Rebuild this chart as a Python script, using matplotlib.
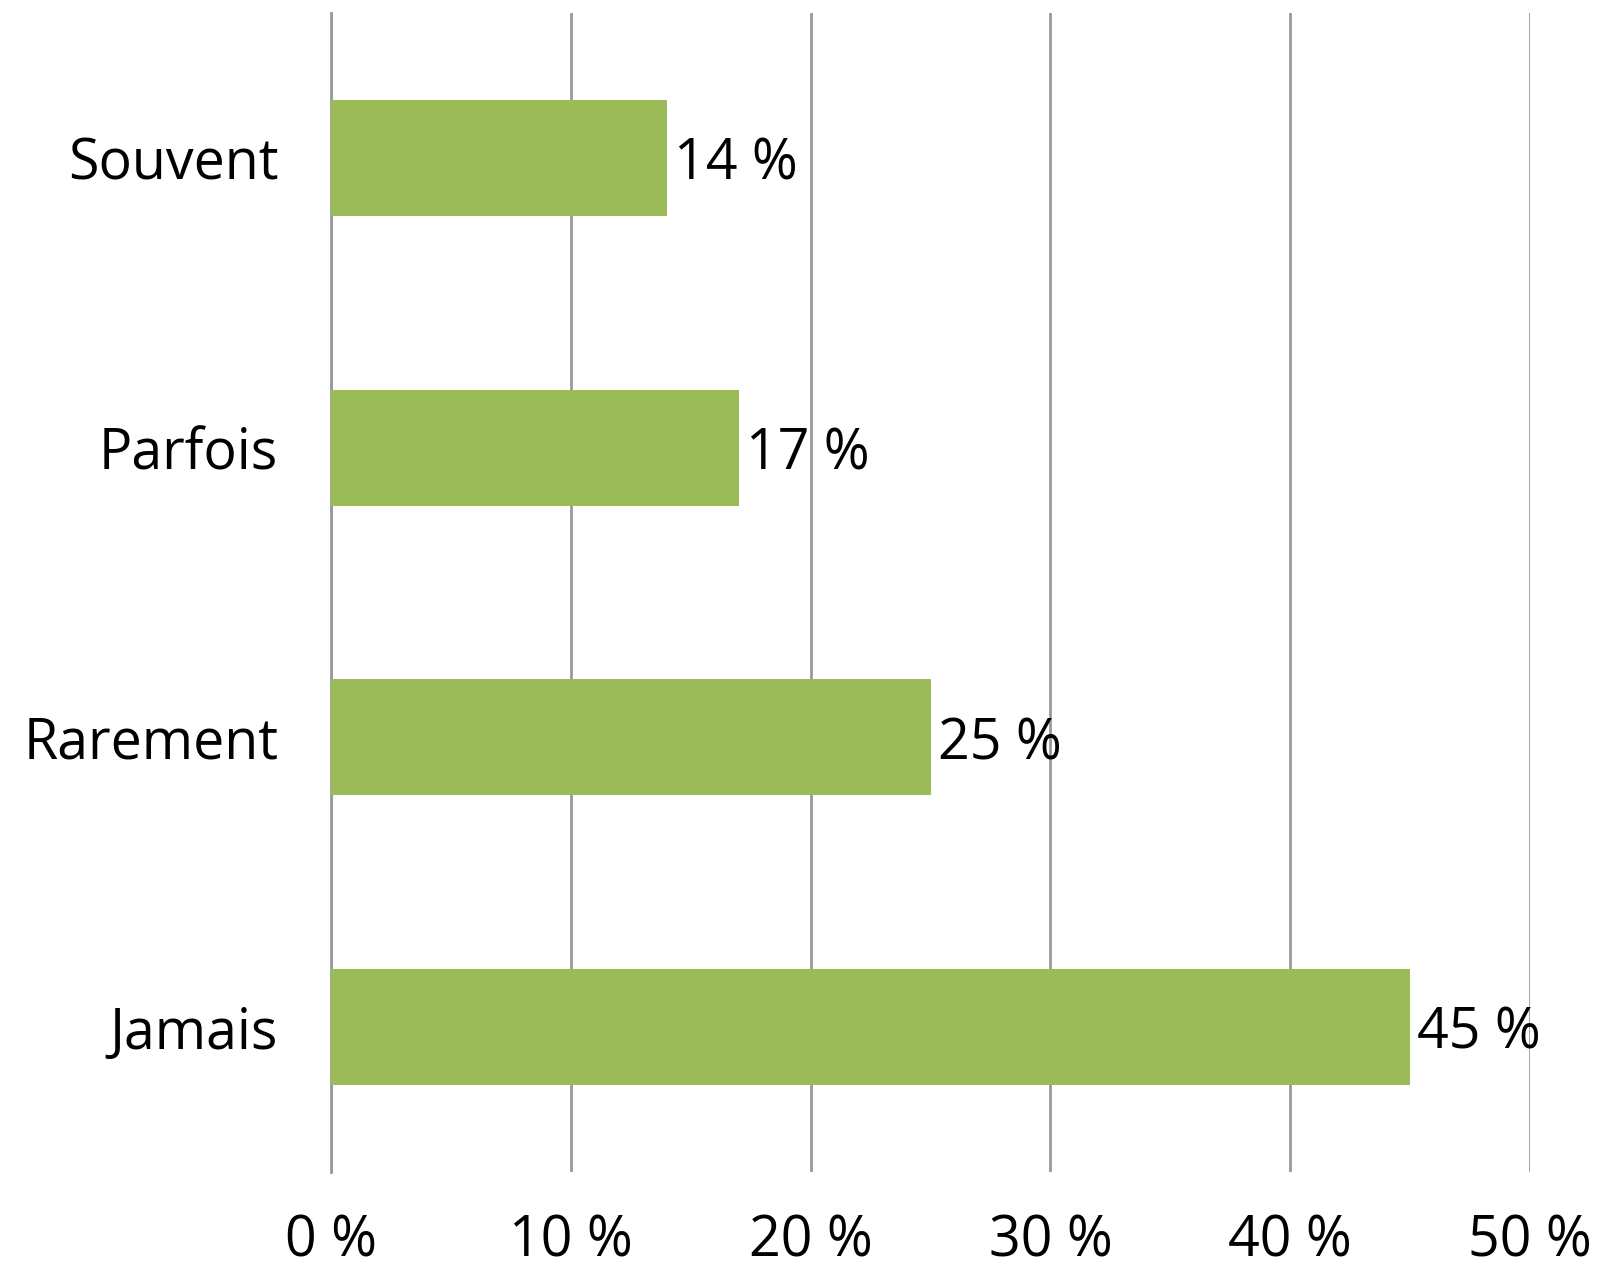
import matplotlib
matplotlib.use("Agg")
import matplotlib.pyplot as plt

categories = ["Souvent", "Parfois", "Rarement", "Jamais"]
values = [14, 17, 25, 45]
xticks = [0, 10, 20, 30, 40, 50]
xtick_labels = ["0 %", "10 %", "20 %", "30 %", "40 %", "50 %"]

plt.rcParams['font.family'] = ['Open Sans', 'DejaVu Sans']

fig = plt.figure(figsize=(15.99, 12.72), dpi=100)
ax = fig.add_axes([331/1599, 100/1272, (1530-331)/1599, (1172-13)/1272])

ypos = list(range(len(categories)))
ax.barh(ypos, values, height=0.4, color="#9BBB59", zorder=3)
for y, v in zip(ypos, values):
    ax.text(v + 0.3, y + 0.025, f"{v} %", va="center", ha="left", fontsize=40, color="black", zorder=4)

ax.set_xlim(0, 50)
ax.set_ylim(3.5, -0.5)
ax.set_yticks(ypos)
ax.set_yticklabels(categories, fontsize=40)
ax.set_xticks(xticks)
ax.set_xticklabels(xtick_labels, fontsize=40)
ax.tick_params(axis="both", length=0)
ax.tick_params(axis="x", pad=30)
ax.tick_params(axis="y", pad=38)
for lbl in ax.get_yticklabels():
    lbl.set_va("center_baseline")
ax.grid(axis="x", color="#999999", linewidth=2, zorder=0)
ax.set_axisbelow(True)
for s in ["top", "right", "bottom"]:
    ax.spines[s].set_visible(False)
ax.spines["left"].set_color("#999999")
ax.spines["left"].set_linewidth(2)

fig.savefig("out.png", dpi=100)
